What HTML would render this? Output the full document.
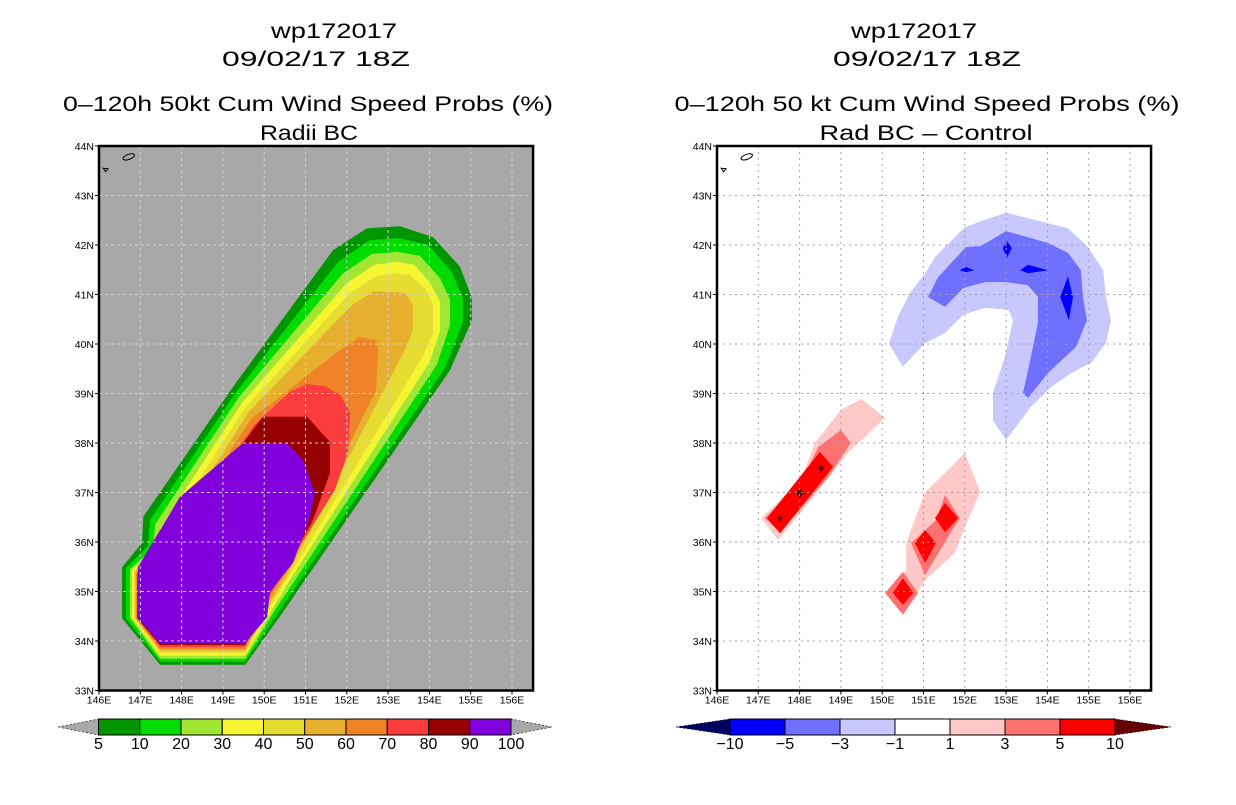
<!DOCTYPE html>
<html><head><meta charset="utf-8"><style>
html,body{margin:0;padding:0;background:#fff;}
svg text{font-family:"Liberation Sans",sans-serif;fill:#000;}
</style></head><body>
<svg id="fig" width="1236" height="800" viewBox="0 0 1236 800" xmlns="http://www.w3.org/2000/svg">
<g>
<text x="334" y="38" font-size="21" text-anchor="middle" textLength="126" lengthAdjust="spacingAndGlyphs">wp172017</text>
<text x="316" y="66" font-size="21" text-anchor="middle" textLength="188" lengthAdjust="spacingAndGlyphs">09/02/17 18Z</text>
<text x="308" y="111" font-size="21" text-anchor="middle" textLength="490" lengthAdjust="spacingAndGlyphs">0–120h 50kt Cum Wind Speed Probs (%)</text>
<text x="309" y="140" font-size="21" text-anchor="middle" textLength="98" lengthAdjust="spacingAndGlyphs">Radii BC</text>
</g>
<g>
<text x="914" y="38" font-size="21" text-anchor="middle" textLength="126" lengthAdjust="spacingAndGlyphs">wp172017</text>
<text x="927" y="66" font-size="21" text-anchor="middle" textLength="188" lengthAdjust="spacingAndGlyphs">09/02/17 18Z</text>
<text x="927" y="111" font-size="21" text-anchor="middle" textLength="505" lengthAdjust="spacingAndGlyphs">0–120h 50 kt Cum Wind Speed Probs (%)</text>
<text x="926" y="140" font-size="21" text-anchor="middle" textLength="213" lengthAdjust="spacingAndGlyphs">Rad BC – Control</text>
</g>
<g id="left"></g>
<g id="right"></g>
<g id="cbars"></g>
</svg>
<script>
// ---- data ----
const lonTicks=[146,147,148,149,150,151,152,153,154,155,156];
const latTicks=[33,34,35,36,37,38,39,40,41,42,43,44];
const leftLevels=[5,10,20,30,40,50,60,70,80,90,100];
const leftColors=['#009600','#00dc00','#a0e632','#f5f532','#e6dc32','#e6af2d','#f08228','#fa3c3c','#960000','#8200dc'];
const rightLevels=[-10,-5,-3,-1,1,3,5,10];
const rightColors=['#0000ff','#7070ff','#c8c8ff','#ffffff','#ffc8c8','#ff7070','#ff0000'];
const rightLow='#000060', rightHigh='#640000';
// left contour polygons [lon,lat], level 5 .. 90
const p5=[[147.48,33.52],[149.54,33.52],[150.46,34.59],[150.87,35.09],[154.50,39.47],[155.03,40.48],[155.03,40.93],[154.74,41.56],[154.09,42.16],[153.29,42.38],[152.49,42.34],[151.67,41.90],[149.24,39.13],[147.07,36.51],[147.04,35.98],[146.56,35.49],[146.56,34.46]];
const p10=[[147.48,33.58],[149.54,33.58],[150.38,34.63],[150.79,35.13],[154.38,39.52],[154.81,40.44],[154.81,40.93],[154.55,41.45],[153.97,42.00],[153.29,42.14],[152.56,42.10],[151.79,41.66],[149.32,39.03],[147.23,36.44],[147.19,35.92],[146.65,35.47],[146.65,34.46]];
const p20=[[147.48,33.64],[149.54,33.64],[150.31,34.69],[150.70,35.17],[154.18,39.58],[154.50,40.38],[154.50,40.89],[154.26,41.33],[153.77,41.78],[153.24,41.86],[152.61,41.82],[151.91,41.43],[149.39,38.93],[147.36,36.36],[147.31,35.88],[146.75,35.45],[146.75,34.46]];
const p30=[[147.48,33.70],[149.54,33.70],[150.26,34.73],[150.62,35.23],[154.01,39.64],[154.26,40.28],[154.26,40.85],[154.01,41.25],[153.63,41.60],[153.24,41.66],[152.66,41.60],[152.00,41.23],[149.46,38.81],[147.48,36.28],[147.40,35.82],[146.80,35.45],[146.80,34.46]];
const p40=[[147.48,33.76],[149.54,33.76],[150.21,34.79],[150.58,35.29],[153.82,39.72],[154.09,40.22],[154.09,40.79],[153.89,41.13],[153.53,41.39],[153.17,41.43],[152.71,41.37],[152.08,41.03],[149.54,38.71],[147.60,36.20],[147.50,35.78],[146.85,35.43],[146.85,34.46]];
const p50=[[147.48,33.80],[149.54,33.80],[150.19,34.83],[150.55,35.33],[153.41,39.88],[153.60,40.28],[153.60,40.79],[153.41,41.03],[152.66,41.07],[152.13,40.79],[149.61,38.61],[147.72,36.10],[147.60,35.72],[146.88,35.41],[146.88,34.46]];
const p60=[[147.48,33.84],[149.54,33.84],[150.14,34.87],[150.50,35.37],[151.96,37.80],[152.71,39.07],[152.76,39.88],[152.71,40.08],[152.32,40.14],[151.84,39.88],[149.68,38.48],[147.77,36.04],[147.66,35.66],[146.90,35.39],[146.90,34.46]];
const p70=[[147.48,33.88],[149.54,33.88],[150.12,34.91],[150.43,35.33],[151.71,37.05],[152.03,37.80],[152.08,38.61],[151.84,38.97],[151.47,39.15],[151.04,39.19],[150.62,39.03],[149.75,38.36],[147.86,35.98],[147.74,35.62],[146.92,35.37],[146.92,34.46]];
const p80=[[147.48,33.92],[149.54,33.92],[150.09,34.95],[150.43,35.35],[151.18,36.44],[151.59,37.39],[151.59,38.02],[151.04,38.53],[149.97,38.53],[149.49,38.00],[147.91,35.94],[147.79,35.60],[146.93,35.35],[146.93,34.46]];
const p90=[[147.48,33.96],[149.54,33.96],[150.07,34.48],[150.14,34.99],[150.70,35.58],[151.11,36.51],[151.23,36.99],[150.94,37.66],[150.55,38.00],[149.49,38.00],[147.96,36.91],[146.94,35.49],[146.94,34.46]];
// right difference polygons
const lightBlue=[[153.00,42.65],[154.50,42.34],[154.98,41.96],[155.35,41.49],[155.42,40.95],[155.54,40.48],[155.42,40.02],[155.06,39.62],[154.57,39.41],[154.09,39.13],[153.60,38.73],[153.00,38.06],[152.68,38.46],[152.68,39.01],[152.97,39.74],[153.17,40.48],[153.05,40.69],[152.49,40.73],[151.96,40.59],[151.52,40.22],[151.04,40.02],[150.50,39.54],[150.16,40.00],[150.38,40.55],[150.67,41.03],[151.04,41.43],[151.28,41.76],[152.00,42.36],[152.49,42.51]];
const medBlue=[[153.00,42.28],[154.01,42.04],[154.50,41.84],[154.81,41.49],[154.86,40.95],[154.96,40.48],[154.69,39.94],[154.01,39.41],[153.53,38.91],[153.41,39.01],[153.53,39.47],[153.77,40.42],[153.77,40.95],[153.53,41.19],[153.00,41.25],[152.49,41.25],[151.96,41.13],[151.52,40.75],[151.11,40.95],[151.35,41.35],[152.03,41.96],[152.39,41.98]];
const blueA=[[153.02,42.08],[153.14,41.94],[153.02,41.74],[152.92,41.94]];
const blueB=[[151.88,41.49],[152.03,41.56],[152.22,41.49],[152.03,41.45]];
const blueC=[[153.34,41.49],[153.53,41.60],[154.01,41.49],[153.53,41.43]];
const blueD=[[154.31,40.95],[154.50,41.37],[154.62,40.95],[154.52,40.48]];
const pinkL1=[[149.49,38.89],[150.07,38.51],[149.17,37.80],[148.28,36.85],[147.48,36.04],[147.07,36.48],[148.03,37.25],[148.37,38.00],[149.00,38.67]];
const pinkM1=[[149.00,38.26],[149.24,38.00],[148.69,37.31],[147.53,36.20],[147.16,36.48],[148.08,37.29],[148.45,37.92]];
const red1=[[148.49,37.82],[148.81,37.52],[147.53,36.18],[147.21,36.48]];
const darkSpots=[[148.52,37.49,0.07],[148.01,36.99,0.1],[147.53,36.48,0.06]];
const pinkL2=[[152.00,37.80],[152.37,37.01],[152.00,36.30],[151.76,35.78],[151.04,35.23],[150.55,34.57],[150.07,34.97],[150.58,35.43],[150.58,35.98],[151.04,37.01],[151.59,37.45]];
const pinkM2a=[[151.52,36.95],[151.88,36.48],[151.59,36.10],[151.04,35.33],[150.70,35.98],[151.30,36.44]];
const pinkM2b=[[150.50,35.40],[150.87,34.97],[150.50,34.53],[150.07,34.97]];
const red2a=[[151.52,36.79],[151.84,36.48],[151.52,36.20],[151.28,36.48]];
const red2b=[[151.04,36.24],[151.30,35.98],[151.04,35.58],[150.79,35.98]];
const red2c=[[150.50,35.27],[150.75,34.97],[150.50,34.73],[150.26,34.97]];

const NS='http://www.w3.org/2000/svg';
function mk(tag,attrs,parent){const e=document.createElementNS(NS,tag);for(const k in attrs)e.setAttribute(k,attrs[k]);parent.appendChild(e);return e;}
const PXD=41.3, PYD=49.5;
function xs(x0){return lon=>x0+(lon-146)*PXD;}
function ys(lat){return 146+(44-lat)*PYD;}
function pts(poly,X){return poly.map(p=>X(p[0]).toFixed(1)+','+ys(p[1]).toFixed(1)).join(' ');}

function drawMap(g,x0,bg,gridColor,gridDash,polys,spotsFn){
  const X=xs(x0);
  const x1=X(156.51), yT=ys(44), yB=ys(33);
  const bgr=mk('rect',{x:x0,y:yT,width:x1-x0,height:yB-yT,fill:bg},g);
  
  
  polys.forEach(([poly,col,name])=>{
    const p=mk('polygon',{points:pts(poly,X),fill:col},g);
    
    
  });
  if(spotsFn)spotsFn(g,X);
  lonTicks.slice(1).forEach(l=>{
    const ln=mk('line',{x1:X(l),x2:X(l),y1:yT,y2:yB,stroke:gridColor,'stroke-width':1,'stroke-dasharray':gridDash},g);
    
    
  });
  latTicks.slice(1,-1).forEach(l=>{
    const ln=mk('line',{x1:x0,x2:x1,y1:ys(l),y2:ys(l),stroke:gridColor,'stroke-width':1,'stroke-dasharray':gridDash},g);
    
    
  });
  const is1=mk('ellipse',{cx:X(146.72),cy:ys(43.78),rx:6,ry:2.5,transform:`rotate(-20 ${X(146.72)} ${ys(43.78)})`,fill:'none',stroke:'#000','stroke-width':1},g);
  
  
  const is2=mk('polygon',{points:`${X(146.1)},${ys(43.55)} ${X(146.22)},${ys(43.54)} ${X(146.16)},${ys(43.48)}`,fill:'none',stroke:'#000','stroke-width':1},g);
  
  
  const fr=mk('rect',{x:x0,y:yT,width:x1-x0,height:yB-yT,fill:'none',stroke:'#000','stroke-width':2.5},g);
  
  
  lonTicks.forEach(l=>{
    const t=mk('line',{x1:X(l),x2:X(l),y1:yB,y2:yB+4,stroke:'#000','stroke-width':1},g);
    
    
    const tx=mk('text',{x:X(l),y:yB+13,'font-size':10.5,'text-anchor':'middle'},g);
    tx.textContent=l+'E';
    
    
  });
  latTicks.forEach(l=>{
    const t=mk('line',{x1:x0-4,x2:x0,y1:ys(l),y2:ys(l),stroke:'#000','stroke-width':1},g);
    
    
    const tx=mk('text',{x:x0-5,y:ys(l)+4,'font-size':10.5,'text-anchor':'end'},g);
    tx.textContent=l+'N';
    
    
  });
}

const allLeft=[p5,p10,p20,p30,p40,p50,p60,p70,p80,p90];
drawMap(document.getElementById('left'),99,'#a8a8a8','#d0d0d0','3,3',
  allLeft.map((p,i)=>[p,leftColors[i],'contour-'+leftLevels[i]+'pct']),null);

drawMap(document.getElementById('right'),717,'#ffffff','#a0a0a0','2,4',[
  [lightBlue,rightColors[2],'diff-neg1-region'],[medBlue,rightColors[1],'diff-neg3-region'],
  [blueA,rightColors[0],'diff-neg5-spot'],[blueB,rightColors[0],'diff-neg5-spot'],[blueC,rightColors[0],'diff-neg5-spot'],[blueD,rightColors[0],'diff-neg5-spot'],
  [pinkL1,rightColors[4],'diff-pos1-region'],[pinkM1,rightColors[5],'diff-pos3-region'],[red1,rightColors[6],'diff-pos5-region'],
  [pinkL2,rightColors[4],'diff-pos1-region'],[pinkM2a,rightColors[5],'diff-pos3-region'],[pinkM2b,rightColors[5],'diff-pos3-region'],
  [red2a,rightColors[6],'diff-pos5-region'],[red2b,rightColors[6],'diff-pos5-region'],[red2c,rightColors[6],'diff-pos5-region']
],(g,X)=>{
  darkSpots.forEach(s=>{
    const d=s[2];
    const p=mk('polygon',{points:pts([[s[0],s[1]+d],[s[0]+d,s[1]],[s[0],s[1]-d],[s[0]-d,s[1]]],X),fill:rightHigh},g);
    
    
  });
});

function colorbar(g,x0,x1,tl,tr,colors,labels,lowC,highC,name){
  const y0=719,y1=735,ym=727,w=(x1-x0)/colors.length;
  const gg=mk('g',{},g);
  
  
  const a=mk('polygon',{points:`${tl},${ym} ${x0},${y0} ${x0},${y1}`,fill:lowC,stroke:'#000','stroke-width':0.6,'stroke-dasharray':'2,2'},gg);
  
  
  const b=mk('polygon',{points:`${tr},${ym} ${x1},${y0} ${x1},${y1}`,fill:highC,stroke:'#000','stroke-width':0.6,'stroke-dasharray':'2,2'},gg);
  
  
  colors.forEach((c,i)=>{
    const r=mk('rect',{x:x0+i*w,y:y0,width:w,height:y1-y0,fill:c,stroke:'#000','stroke-width':1},gg);
    
    
  });
  labels.forEach((l,i)=>{
    const t=mk('text',{x:x0+i*w,y:749,'font-size':16,'text-anchor':'middle'},gg);
    t.textContent=(l<0?'−'+(-l):l);
    
    
  });
}
const cb=document.getElementById('cbars');
colorbar(cb,98.5,511,58,552,leftColors,leftLevels,'#a8a8a8','#a8a8a8','left-colorbar');
colorbar(cb,730,1115,676,1171,rightColors,rightLevels,rightLow,rightHigh,'right-colorbar');
</script>
</body></html>
